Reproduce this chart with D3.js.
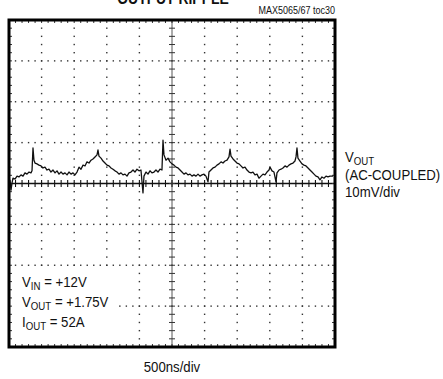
<!DOCTYPE html>
<html><head><meta charset="utf-8">
<script src="https://cdn.jsdelivr.net/npm/d3@7"></script>
<style>
html,body{margin:0;padding:0;background:#fff;}
svg{display:block;}
text{font-family:"Liberation Sans Narrow","Arial Narrow","Liberation Sans",sans-serif;fill:#111;}
</style></head>
<body>
<script>
const timeNs = [15,31,46,61,92,123,153,184,215,245,276,307,337,353,368,383,399,429,460,491,521,552,583,613,644,675,706,736,767,798,828,859,890,920,951,982,1012,1043,1074,1104,1135,1166,1196,1227,1258,1288,1319,1350,1365,1380,1411,1442,1472,1503,1534,1564,1595,1626,1656,1687,1718,1748,1779,1810,1840,1871,1902,1932,1963,1994,2024,2055,2070,2101,2132,2162,2193,2224,2254,2285,2316,2346,2362,2377,2408,2439,2469,2500,2531,2561,2592,2623,2653,2684,2715,2745,2776,2807,2837,2868,2899,2929,2960,2991,3021,3052,3067,3098,3129,3160,3190,3221,3252,3282,3313,3344,3374,3390,3405,3436,3466,3497,3528,3558,3589,3620,3650,3681,3712,3742,3773,3804,3834,3865,3896,3926,3957,3988,4003,4034,4064,4095,4110,4141,4172,4202,4233,4264,4294,4325,4356,4386,4402,4417,4432,4463,4494,4524,4555,4586,4616,4647,4678,4708,4739,4770,4800,4831,4862,4892,4923,4969];
const rippleMv = [0.9,-1.6,0.1,1.3,1.1,1.8,1.6,2.1,1.8,2.6,2.3,2.8,2.6,3.1,8.7,5.7,5.0,4.8,4.5,4.3,3.8,4.0,3.3,3.5,2.8,3.3,2.6,3.1,2.3,2.8,2.3,2.6,2.1,2.8,2.3,2.6,2.1,2.8,4.0,3.5,4.5,4.3,5.3,5.0,5.7,6.0,6.5,7.0,8.2,6.7,6.2,5.5,5.0,4.5,4.3,3.8,3.5,3.1,2.8,2.3,2.6,2.1,2.3,1.8,2.6,2.8,3.3,2.8,3.5,3.1,3.3,-2.3,1.8,2.8,2.3,3.1,2.6,2.8,3.3,2.8,3.5,3.3,10.6,7.0,5.7,6.2,5.3,4.8,4.5,4.0,3.8,3.3,2.8,2.3,2.6,2.1,2.3,1.8,2.1,1.8,2.3,1.8,2.1,2.3,1.8,0.4,2.8,3.3,3.8,4.0,4.5,4.8,5.3,5.0,5.5,5.7,6.5,8.4,6.7,6.0,5.5,5.0,4.8,4.3,3.8,4.0,3.3,2.8,2.6,2.8,2.1,2.3,1.3,1.8,2.3,2.1,2.8,3.3,4.0,3.1,2.8,0.4,2.6,3.3,3.5,3.8,4.3,4.0,4.5,4.8,5.0,5.5,6.5,8.7,6.2,5.5,4.8,4.5,4.3,3.8,3.3,2.8,2.3,1.8,1.6,0.9,1.6,1.3,1.8,1.6,1.8,1.8];

const timeDomain = [0, 5000];      // 10 div x 500ns
const voltDomain = [-40, 40];      // 8 div x 10mV
const divNs = 500, divMv = 10, minorPerDiv = 5;

const title = "OUTPUT RIPPLE";
const docId = "MAX5065/67 toc30";
const xLabel = "500ns/div";
const traceLabelLines = ["(AC-COUPLED)", "10mV/div"];
const conditions = [["V","IN"," = +12V"],["V","OUT"," = +1.75V"],["I","OUT"," = 52A"]];

const W = 443, H = 379;
const L = 9, R = 335, T = 20, B = 347;
const SX = 0.88; // condensed look

const svg = d3.select("body").append("svg").attr("width", W).attr("height", H);
const x = d3.scaleLinear().domain(timeDomain).range([L, R]);
const y = d3.scaleLinear().domain(voltDomain).range([B, T]);

const majorT = d3.range(timeDomain[0] + divNs, timeDomain[1], divNs);
const majorV = d3.range(voltDomain[0] + divMv, voltDomain[1], divMv).filter(v => v !== 0);
const minorT = d3.range(timeDomain[0], timeDomain[1] + 1e-6, divNs / minorPerDiv);
const minorV = d3.range(voltDomain[0], voltDomain[1] + 1e-6, divMv / minorPerDiv);

const g = svg.append("g");
// dotted gridlines
majorT.filter(t => t !== 2500).forEach(t => {
  g.selectAll(null).data(minorV.slice(1, -1)).enter().append("rect")
    .attr("x", x(t) - 0.7).attr("y", d => y(d) - 0.7).attr("width", 1.4).attr("height", 1.4).attr("fill", "#333");
});
majorV.forEach(v => {
  g.selectAll(null).data(minorT.slice(1, -1)).enter().append("rect")
    .attr("x", d => x(d) - 0.7).attr("y", y(v) - 0.7).attr("width", 1.4).attr("height", 1.4).attr("fill", "#333");
});
// center axes
g.append("line").attr("x1", x(timeDomain[0])).attr("x2", x(timeDomain[1])).attr("y1", y(0)).attr("y2", y(0)).attr("stroke", "#111").attr("stroke-width", 1.3);
g.append("line").attr("x1", x(2500)).attr("x2", x(2500)).attr("y1", y(voltDomain[0])).attr("y2", y(voltDomain[1])).attr("stroke", "#444").attr("stroke-width", 0.9);
g.selectAll(null).data(minorT.slice(1, -1)).enter().append("line")
  .attr("x1", d => x(d)).attr("x2", d => x(d)).attr("y1", y(0) - 3.5).attr("y2", y(0) + 3.5).attr("stroke", "#111").attr("stroke-width", 1.1);
g.selectAll(null).data(minorV.slice(1, -1)).enter().append("line")
  .attr("y1", d => y(d)).attr("y2", d => y(d)).attr("x1", x(2500) - 3).attr("x2", x(2500) + 3).attr("stroke", "#333").attr("stroke-width", 1);
// border ticks
g.selectAll(null).data(minorT.slice(1, -1)).enter().append("line")
  .attr("x1", d => x(d)).attr("x2", d => x(d)).attr("y1", T).attr("y2", T + 3).attr("stroke", "#333").attr("stroke-width", 1);
g.selectAll(null).data(minorT.slice(1, -1)).enter().append("line")
  .attr("x1", d => x(d)).attr("x2", d => x(d)).attr("y1", B).attr("y2", B - 3).attr("stroke", "#333").attr("stroke-width", 1);
g.selectAll(null).data(minorV.slice(1, -1)).enter().append("line")
  .attr("y1", d => y(d)).attr("y2", d => y(d)).attr("x1", L).attr("x2", L + 3).attr("stroke", "#333").attr("stroke-width", 1);
g.selectAll(null).data(minorV.slice(1, -1)).enter().append("line")
  .attr("y1", d => y(d)).attr("y2", d => y(d)).attr("x1", R).attr("x2", R - 3).attr("stroke", "#333").attr("stroke-width", 1);

// trace
const pts = timeNs.map((t, i) => [t, rippleMv[i]]);
svg.append("path").datum(pts)
  .attr("d", d3.line().x(d => x(d[0])).y(d => y(d[1])))
  .attr("fill", "none").attr("stroke", "#111").attr("stroke-width", 1.3).attr("stroke-linejoin", "round");

// white backing behind the condition block
svg.append("rect").attr("x", 13).attr("y", 271).attr("width", 103).attr("height", 72).attr("fill", "#fff");

// frame
svg.append("rect").attr("x", L).attr("y", T).attr("width", R - L).attr("height", B - T)
  .attr("fill", "none").attr("stroke", "#000").attr("stroke-width", 3);

// texts (horizontally condensed)
function addText(px, py, size, anchor, sx) {
  return svg.append("text")
    .attr("transform", `translate(${px},${py}) scale(${sx},1)`)
    .attr("text-anchor", anchor || "start")
    .style("font-size", size + "px");
}
addText(173, 4, 17, "middle", 0.82).style("font-weight", "bold").text(title);
addText(335, 14, 10, "end", 0.9).text(docId);
addText(172, 372, 15, "middle", SX).text(xLabel);

const lab = addText(345, 162, 15, "start", SX);
lab.append("tspan").text("V");
lab.append("tspan").attr("dy", 2.5).style("font-size", "11px").text("OUT");
traceLabelLines.forEach((s, i) => {
  addText(345, 180 + i * 17, 15, "start", SX).text(s);
});

conditions.forEach((c, i) => {
  const t = addText(22, 287 + i * 20, 15, "start", SX);
  t.append("tspan").text(c[0]);
  t.append("tspan").attr("dy", 3).style("font-size", "11px").text(c[1]);
  t.append("tspan").attr("dy", -3).text(c[2]);
});
</script>
</body></html>
